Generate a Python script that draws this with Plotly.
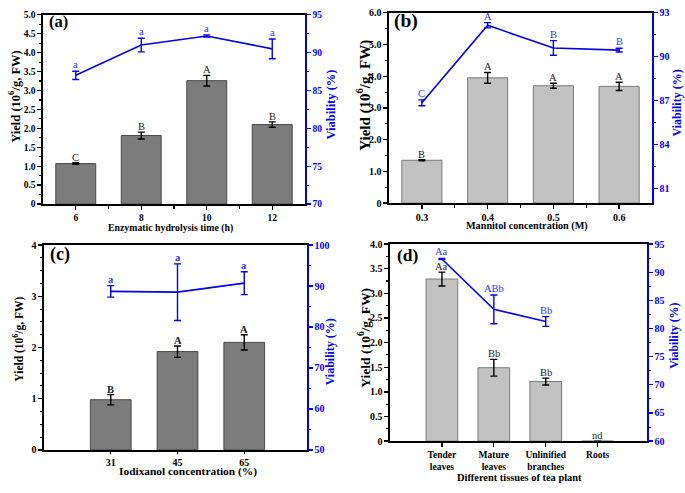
import plotly.graph_objects as go

# ---------------- data ----------------
# (a) Enzymatic hydrolysis time
a_cats = ["6", "8", "10", "12"]
a_yield = [1.07, 1.81, 3.26, 2.10]
a_yield_err = [0.02, 0.09, 0.14, 0.07]
a_viab = [87.0, 91.0, 92.2, 90.5]
a_viab_err = [0.55, 0.9, 0.15, 1.3]
a_bar_lbl = ["C", "B", "A", "B"]
a_viab_lbl = ["a", "a", "a", "a"]

# (b) Mannitol concentration
b_cats = ["0.3", "0.4", "0.5", "0.6"]
b_yield = [1.35, 3.95, 3.70, 3.68]
b_yield_err = [0.02, 0.17, 0.08, 0.13]
b_viab = [86.85, 92.15, 90.6, 90.45]
b_viab_err = [0.2, 0.18, 0.5, 0.13]
b_bar_lbl = ["B", "A", "A", "A"]
b_viab_lbl = ["C", "A", "B", "B"]

# (c) Iodixanol concentration
c_cats = ["31", "45", "65"]
c_yield = [0.98, 1.92, 2.10]
c_yield_err = [0.1, 0.11, 0.15]
c_viab = [88.7, 88.5, 90.7]
c_viab_err = [1.4, 6.9, 2.8]
c_bar_lbl = ["B", "A", "A"]
c_viab_lbl = ["a", "a", "a"]

# (d) Different tissues
d_cats = ["Tender<br>leaves", "Mature<br>leaves", "Unlinified<br>branches", "Roots"]
d_yield = [3.29, 1.49, 1.21, 0]
d_yield_err = [0.14, 0.17, 0.07, 0]
d_viab = [92.35, 83.4, 81.25]
d_viab_err = [0.1, 2.55, 0.87]
d_bar_lbl = ["Aa", "Bb", "Bb", "nd"]
d_viab_lbl = ["Aa", "ABb", "Bb"]

FONT = "Liberation Serif, Times New Roman, serif"
BLUE = "#0000ee"
BLUE_TXT = "#3333ff"
DARK_FILL, DARK_EDGE = "#7c7c7c", "#4a4a4a"
LIGHT_FILL, LIGHT_EDGE = "#c2c2c2", "#7a7a7a"

W, H = 685, 493


def px(x):
    return x / W


def py(y):
    return 1 - y / H


panels = [
    dict(key="a", cats=a_cats, yv=a_yield, ye=a_yield_err, vv=a_viab, ve=a_viab_err,
         bl=a_bar_lbl, vl=a_viab_lbl, fill=DARK_FILL, edge=DARK_EDGE,
         box=(43, 305, 9, 203), xr=[-0.5, 3.5],
         yr=[0, 5], ydt=0.5, ymin=0.25, yfmt=".1f",
         vr=[70, 95], vdt=5, vmin=2.5, xminor=[0.5, 1.5, 2.5],
         xtitle="Enzymatic hydrolysis time (h)", xt_pos=(170, 228), xt_size=9.8,
         yt_pos=(14, 93), yt_size=12.5, vt_pos=(331, 101), vt_size=12.5,
         lab_pos=(47, 16), lab_size=16.5, bold_lbl=False, tick=9.5, xtick=9.5,
         lbl_size=10.5),
    dict(key="b", cats=b_cats, yv=b_yield, ye=b_yield_err, vv=b_viab, ve=b_viab_err,
         bl=b_bar_lbl, vl=b_viab_lbl, fill=LIGHT_FILL, edge=LIGHT_EDGE,
         box=(389, 652, 7, 202), xr=[-0.5, 3.5],
         yr=[0, 6], ydt=1, ymin=0.5, yfmt=".1f",
         vr=[80, 93], vdt=3, vmin=1.5, xminor=[0.5, 1.5, 2.5],
         xtitle="Mannitol concentration (M)", xt_pos=(527, 226), xt_size=10.2,
         yt_pos=(364, 92), yt_size=15, vt_pos=(677, 100), vt_size=12,
         lab_pos=(392, 15), lab_size=19.5, bold_lbl=False, tick=10, xtick=10,
         lbl_size=10.5),
    dict(key="c", cats=c_cats, yv=c_yield, ye=c_yield_err, vv=c_viab, ve=c_viab_err,
         bl=c_bar_lbl, vl=c_viab_lbl, fill=DARK_FILL, edge=DARK_EDGE,
         box=(44, 307, 245, 455), xr=[-1, 2.94],
         yr=[0, 4], ydt=1, ymin=0.25, yfmt="d",
         vr=[50, 100], vdt=10, vmin=5, xminor=None,
         xtitle="Iodixanol concentration (%)", xt_pos=(188, 477), xt_size=11.4,
         yt_pos=(19, 342), yt_size=11.5, vt_pos=(330, 355), vt_size=12,
         lab_pos=(48, 255), lab_size=18, bold_lbl=True, tick=10, xtick=10,
         lbl_size=10.5),
    dict(key="d", cats=d_cats, yv=d_yield, ye=d_yield_err, vv=d_viab, ve=d_viab_err,
         bl=d_bar_lbl, vl=d_viab_lbl, fill=LIGHT_FILL, edge=LIGHT_EDGE,
         box=(390, 647, 244, 446), xr=[-1, 3.95],
         yr=[0, 4], ydt=0.5, ymin=0.25, yfmt=".1f",
         vr=[60, 95], vdt=5, vmin=2.5, xminor=None,
         xtitle="Different tissues of tea plant", xt_pos=(519, 483), xt_size=10.4,
         yt_pos=(365, 340), yt_size=13.5, vt_pos=(674, 338), vt_size=11.8,
         lab_pos=(395, 255), lab_size=17.5, bold_lbl=False, tick=10, xtick=9.5,
         lbl_size=10.5),
]

fig = go.Figure()
annotations = []
layout = {}

for i, p in enumerate(panels):
    n = i + 1
    xa = "x" if n == 1 else f"x{n}"
    ya = "y" if n == 1 else f"y{2 * n - 1}"
    ya2 = f"y{2 * n}"
    xkey = "xaxis" if n == 1 else f"xaxis{n}"
    ykey = "yaxis" if n == 1 else f"yaxis{2 * n - 1}"
    y2key = f"yaxis{2 * n}"
    xs = list(range(len(p["cats"])))
    x0, x1, y0, y1 = p["box"]

    fig.add_trace(go.Bar(
        x=xs, y=p["yv"], xaxis=xa, yaxis=ya, width=0.61,
        marker=dict(color=p["fill"], line=dict(color=p["edge"], width=1)),
        error_y=dict(type="data", array=p["ye"], color="black", thickness=1.4, width=3.5),
        showlegend=False, hoverinfo="skip",
    ))
    vx = list(range(len(p["vv"])))
    fig.add_trace(go.Scatter(
        x=vx, y=p["vv"], xaxis=xa, yaxis=ya2, mode="lines",
        line=dict(color=BLUE, width=1.6),
        error_y=dict(type="data", array=p["ve"], color=BLUE, thickness=1.4, width=3.5),
        showlegend=False, hoverinfo="skip",
    ))

    w = "bold" if p["bold_lbl"] else "normal"
    lbl_font = dict(family=FONT, size=p["lbl_size"], color="#222222", weight=w)
    vlbl_font = dict(family=FONT, size=p["lbl_size"], color=BLUE_TXT, weight=w)
    for x, v, e, t in zip(xs, p["yv"], p["ye"], p["bl"]):
        annotations.append(dict(x=x, y=v + e, xref=xa, yref=ya, text=t, showarrow=False,
                                yanchor="bottom", yshift=-2, font=lbl_font))
    for x, v, e, t in zip(vx, p["vv"], p["ve"], p["vl"]):
        annotations.append(dict(x=x, y=v + e, xref=xa, yref=ya2, text=t, showarrow=False,
                                yanchor="bottom", yshift=-1, font=vlbl_font))
    # panel label
    annotations.append(dict(x=px(p["lab_pos"][0]), y=py(p["lab_pos"][1]), xref="paper",
                            yref="paper", text=f"({p['key']})", showarrow=False,
                            xanchor="left", yanchor="middle",
                            font=dict(family=FONT, size=p["lab_size"], color="black",
                                      weight="bold")))
    # axis titles
    annotations.append(dict(x=px(p["xt_pos"][0]), y=py(p["xt_pos"][1]), xref="paper",
                            yref="paper", text=p["xtitle"], showarrow=False,
                            xanchor="center", yanchor="middle",
                            font=dict(family=FONT, size=p["xt_size"], color="black",
                                      weight="bold")))
    annotations.append(dict(x=px(p["yt_pos"][0]), y=py(p["yt_pos"][1]), xref="paper",
                            yref="paper", text="Yield (10<sup>6</sup>/g, FW)", showarrow=False,
                            textangle=-90, xanchor="center", yanchor="middle",
                            font=dict(family=FONT, size=p["yt_size"], color="black",
                                      weight="bold")))
    annotations.append(dict(x=px(p["vt_pos"][0]), y=py(p["vt_pos"][1]), xref="paper",
                            yref="paper", text="Viability (%)", showarrow=False,
                            textangle=-90, xanchor="center", yanchor="middle",
                            font=dict(family=FONT, size=p["vt_size"], color=BLUE,
                                      weight="bold")))

    layout[xkey] = dict(
        domain=[px(x0), px(x1)], anchor=ya, range=p["xr"], tickmode="array", tickvals=xs,
        ticktext=p["cats"], showline=True, linecolor="black", linewidth=1.6, mirror=True,
        ticks="outside", ticklen=4 if p["key"] != "c" else 2, tickwidth=1.3,
        tickcolor="black", showgrid=False, zeroline=False,
        tickfont=dict(family=FONT, size=p["xtick"], color="black", weight="bold"),
    )
    if p["xminor"]:
        layout[xkey]["minor"] = dict(tickmode="array", tickvals=p["xminor"], ticks="outside",
                                     ticklen=3, tickwidth=1.3, tickcolor="black")
    ytick_vals = []
    vv_ = p["yr"][0]
    while vv_ <= p["yr"][1] + 1e-9:
        ytick_vals.append(round(vv_, 3))
        vv_ += p["ydt"]
    ytick_txt = []
    for t in ytick_vals:
        if t == 0:
            ytick_txt.append("0")
        elif p["yfmt"] == "d":
            ytick_txt.append(str(int(t)))
        else:
            ytick_txt.append(f"{t:.1f}")
    layout[ykey] = dict(
        domain=[py(y1), py(y0)], anchor=xa, range=p["yr"], tickmode="array",
        tickvals=ytick_vals, ticktext=ytick_txt, showline=True, linecolor="black",
        linewidth=1.6, ticks="outside", ticklen=4, tickwidth=1.3, tickcolor="black",
        showgrid=False, zeroline=False,
        tickfont=dict(family=FONT, size=p["tick"], color="black", weight="bold"),
        minor=dict(dtick=p["ymin"], ticks="outside", ticklen=2.5, tickwidth=1.1,
                   tickcolor="black"),
    )
    layout[y2key] = dict(
        overlaying=ya, anchor=xa, side="right", range=p["vr"], dtick=p["vdt"], tick0=0,
        showline=True, linecolor=BLUE, linewidth=1.6,
        ticks="outside", ticklen=4, tickwidth=1.3, tickcolor=BLUE, showgrid=False,
        zeroline=False, tickfont=dict(family=FONT, size=p["tick"], color=BLUE, weight="bold"),
        minor=dict(dtick=p["vmin"], ticks="outside", ticklen=2.5, tickwidth=1.1,
                   tickcolor=BLUE),
    )

fig.update_layout(
    width=W, height=H, margin=dict(l=0, r=0, t=0, b=0),
    paper_bgcolor="white", plot_bgcolor="white",
    annotations=annotations, showlegend=False, bargap=0, hovermode=False,
    **layout,
)

fig.write_html(
    "out.html",
    config={"displayModeBar": False, "staticPlot": True},
    default_width="685px", default_height="493px",
    post_script=(
        "document.documentElement.style.margin='0px';"
        "document.documentElement.style.overflow='hidden';"
        "document.body.style.margin='0px';document.body.style.padding='0px';"
        "document.body.style.overflow='hidden';"
    ),
)
